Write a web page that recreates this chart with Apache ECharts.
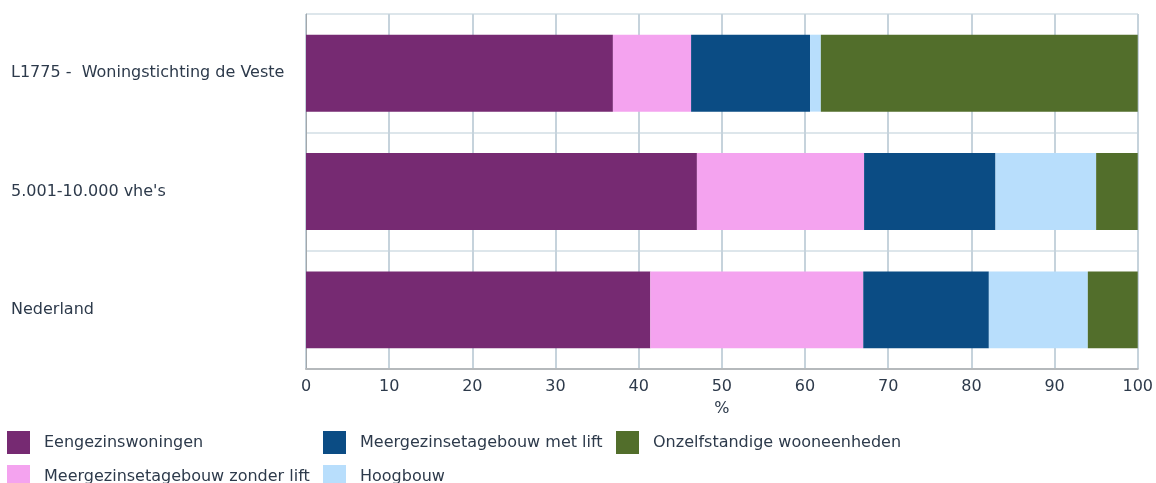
<!DOCTYPE html>
<html><head><meta charset="utf-8">
<script src="https://cdn.jsdelivr.net/npm/echarts@6/dist/echarts.min.js"></script>
<style>html,body{margin:0;padding:0;background:#fff}#c{width:1156px;height:483px}</style>
</head><body><div id="c"></div>
<script>
const categories = ["L1775 -  Woningstichting de Veste", "5.001-10.000 vhe's", "Nederland"];
const seriesNames = ["Eengezinswoningen", "Meergezinsetagebouw zonder lift", "Meergezinsetagebouw met lift", "Hoogbouw", "Onzelfstandige wooneenheden"];
const eengezins = [36.9, 47.0, 41.4];
const zonderLift = [9.4, 20.1, 25.6];
const metLift = [14.3, 15.8, 15.1];
const hoogbouw = [1.3, 12.1, 11.9];
const onzelfstandig = [38.1, 5.0, 6.0];
const xTicks = [0, 10, 20, 30, 40, 50, 60, 70, 80, 90, 100];

const values = [eengezins, zonderLift, metLift, hoogbouw, onzelfstandig];
const colors = ['#762a72', '#f4a3ef', '#0b4c84', '#b8defc', '#526e2b'];
const txt = '#2d3a4b';
const font = 'DejaVu Sans';
const fs = 16;

const chart = echarts.init(document.getElementById('c'), null, {renderer: 'canvas'});
const legendPos = [[7, 431], [7, 465], [323, 431], [323, 465], [616, 431]];
const legends = seriesNames.map((n, i) => ({
  orient: 'horizontal', icon: 'rect', itemWidth: 23, itemHeight: 23,
  selectedMode: false, left: legendPos[i][0], top: legendPos[i][1], padding: 0,
  data: [n],
  textStyle: {color: txt, fontSize: fs, fontFamily: font, padding: [0, 0, 0, 9]}
}));
chart.setOption({
  animation: false,
  color: colors,
  grid: {left: 306, right: 15, top: 14, bottom: 114, show: true, borderColor: '#a3a8ac', borderWidth: 1, containLabel: false},
  legend: legends,
  xAxis: {
    type: 'value', min: 0, max: 100, interval: 10,
    name: '%', nameLocation: 'middle', nameGap: 32,
    nameTextStyle: {color: txt, fontSize: fs, fontFamily: font},
    axisLine: {show: true, lineStyle: {color: '#b5b9bc', width: 2}},
    axisTick: {show: false},
    axisLabel: {color: txt, fontSize: fs, fontFamily: font, margin: 10,
      formatter: v => xTicks.includes(v) ? String(v) : ''},
    splitLine: {show: true, lineStyle: {color: '#c6d3dc', width: 2}}
  },
  yAxis: {
    type: 'category', data: categories, inverse: true,
    axisLine: {show: true, lineStyle: {color: '#a3a8ac', width: 1}},
    axisTick: {show: false},
    axisLabel: {color: txt, fontSize: fs, fontFamily: font, align: 'left', margin: 295, padding: [3, 0, 0, 0]},
    splitLine: {show: true, lineStyle: {color: '#dde6eb', width: 2}}
  },
  series: seriesNames.map((n, i) => ({
    name: n, type: 'bar', stack: 'total', barWidth: '65%',
    data: values[i], itemStyle: {color: colors[i]}
  }))
});
</script></body></html>
